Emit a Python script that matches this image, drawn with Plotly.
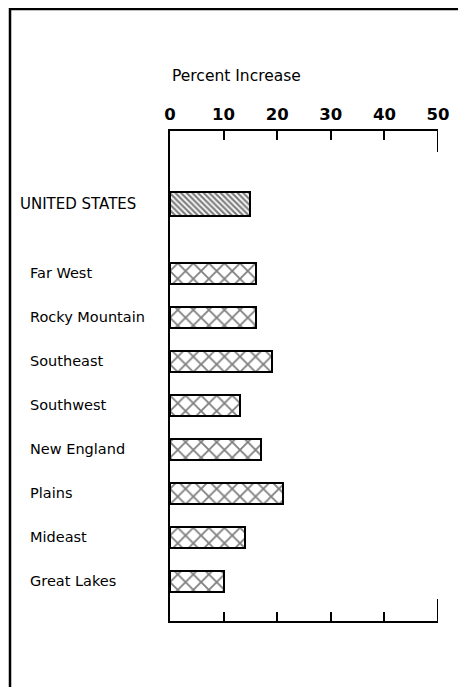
import plotly.graph_objects as go

# ---- data ----
us_label = ["UNITED STATES"]
us_value = [15]
regions = ["Far West", "Rocky Mountain", "Southeast", "Southwest",
           "New England", "Plains", "Mideast", "Great Lakes"]
region_values = [16, 16, 19, 13, 17, 21, 14, 10]
x_ticks = [0, 10, 20, 30, 40, 50]
axis_title = "Percent Increase"

# ---- layout geometry (page pixels; page body has an 8px margin) ----
OFF = 8
W, H = 466 - OFF, 687 - OFF
L, R, T, B = 170 - OFF, 438 - OFF, 131 - OFF, 621 - OFF
FONT = "DejaVu Sans"

def px_x(px):  # page pixel -> paper x
    return (px - OFF - L) / (R - L)

def px_y(py):  # page pixel -> paper y
    return (B - (py - OFF)) / (B - T)

UNIT = 44.0
US_ROW = 204  # page pixel of the first row centre
gap = 1.57
us_pos = [0]
reg_pos = [gap + i for i in range(len(regions))]

fig = go.Figure()
fig.add_trace(go.Bar(
    y=us_pos, x=us_value, orientation="h", width=0.55,
    marker=dict(color="white", line=dict(color="black", width=2),
                pattern=dict(shape="\\", size=4, solidity=0.55,
                             fgcolor="black", bgcolor="white")),
    showlegend=False, hoverinfo="skip",
))
fig.add_trace(go.Bar(
    y=reg_pos, x=region_values, orientation="h", width=0.48,
    marker=dict(color="white", line=dict(color="black", width=2),
                pattern=dict(shape="x", size=11, solidity=0.3,
                             fgcolor="black", bgcolor="white")),
    showlegend=False, hoverinfo="skip",
))

annotations = []
annotations.append(dict(xref="paper", yref="y", x=px_x(18), y=us_pos[0],
                        text=us_label[0], showarrow=False, xanchor="left",
                        font=dict(family=FONT, size=15, color="black")))
for name, p in zip(regions, reg_pos):
    annotations.append(dict(xref="paper", yref="y", x=px_x(28), y=p,
                            text=name, showarrow=False, xanchor="left",
                            font=dict(family=FONT, size=14.5, color="black")))
annotations.append(dict(xref="paper", yref="paper", x=px_x(236), y=px_y(76),
                        text=axis_title, showarrow=False, xanchor="center",
                        yanchor="middle",
                        font=dict(family=FONT, size=15.5, color="black")))

shapes = [
    # outer frame (left and top)
    dict(type="line", xref="paper", yref="paper", x0=px_x(10), x1=px_x(10),
         y0=px_y(8), y1=px_y(700), line=dict(color="black", width=2.5)),
    dict(type="line", xref="paper", yref="paper", x0=px_x(10), x1=px_x(462),
         y0=px_y(9), y1=px_y(9), line=dict(color="black", width=2.5)),
    # long end ticks at the right
    dict(type="line", xref="x", yref="paper", x0=x_ticks[-1], x1=x_ticks[-1],
         y0=1, y1=px_y(152), line=dict(color="black", width=2)),
    dict(type="line", xref="x", yref="paper", x0=x_ticks[-1], x1=x_ticks[-1],
         y0=0, y1=px_y(599), line=dict(color="black", width=2)),
]

fig.update_layout(
    width=W, height=H,
    margin=dict(l=L, r=W - R, t=T, b=H - B, pad=0),
    paper_bgcolor="white", plot_bgcolor="white",
    annotations=annotations, shapes=shapes,
    bargap=0,
    xaxis=dict(range=[0, 50], side="top", tickvals=x_ticks,
               ticktext=[str(v) for v in x_ticks],
               showline=True, linecolor="black", linewidth=2,
               mirror="ticks", ticks="inside", ticklen=9, tickwidth=1.5,
               tickcolor="black", showgrid=False, zeroline=False,
               ticklabelstandoff=2,
               tickfont=dict(family=FONT, size=16.5, color="black", weight="bold")),
    yaxis=dict(range=[(621 - US_ROW) / UNIT, (131 - US_ROW) / UNIT],
               showline=True, linecolor="black", linewidth=2, mirror=False,
               showticklabels=False, ticks="", showgrid=False, zeroline=False),
)

fig.write_html("out.html")
